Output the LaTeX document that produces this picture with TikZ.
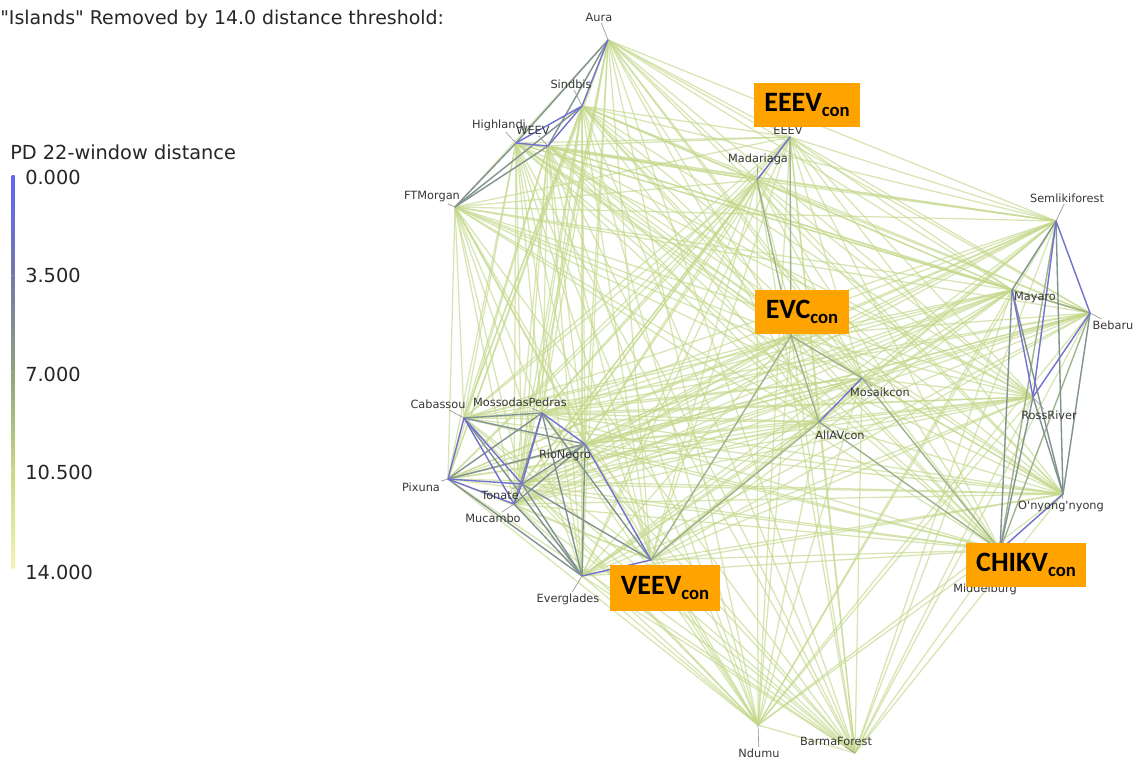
\documentclass[tikz,border=0pt]{standalone}
\usepackage{fontspec}
\setmainfont{DejaVu Sans}
\newfontfamily\boxfont{Carlito}
\definecolor{farc}{RGB}{196,216,138}
\definecolor{midc}{RGB}{128,146,150}
\definecolor{softc}{RGB}{150,170,140}
\definecolor{nearc}{RGB}{112,112,214}
\definecolor{orangebox}{RGB}{255,163,0}
\definecolor{lblc}{RGB}{55,55,55}
\definecolor{lg0}{RGB}{100,100,250}
\definecolor{lg1}{RGB}{112,122,172}
\definecolor{lg2}{RGB}{140,166,122}
\definecolor{lg3}{RGB}{200,216,132}
\definecolor{lg4}{RGB}{242,246,172}
\begin{document}
\begin{tikzpicture}[x=0.75pt,y=-0.75pt,
  faredge/.style={farc,line width=0.95pt,opacity=0.65},
  midedge/.style={midc,line width=1pt},
  softedge/.style={softc,line width=1pt,opacity=0.85},
  nearedge/.style={nearc,line width=1pt},
  vlabel/.style={font=\fontsize{8.5}{9}\selectfont,text=lblc,inner sep=1pt},
  leader/.style={gray!80,line width=0.5pt},
  conbox/.style={fill=orangebox,minimum width=80pt,minimum height=33pt,inner sep=0pt,font=\boxfont\bfseries},
  legtext/.style={font=\fontsize{14.5}{16}\selectfont,text=black!85,anchor=west,inner sep=0pt}]
\useasboundingbox (0,0) rectangle (1137,761);
\fill[white] (0,0) rectangle (1137,761);

% vertices
\coordinate (Aura) at (608,40);
\coordinate (Sindbis) at (582,106);
\coordinate (Highlandj) at (516,143);
\coordinate (WEEV) at (548,146);
\coordinate (FTMorgan) at (455,207);
\coordinate (EEEV) at (790,137);
\coordinate (Madariaga) at (757,180);
\coordinate (Semliki) at (1056,221);
\coordinate (Mayaro) at (1012,290);
\coordinate (Bebaru) at (1090,313);
\coordinate (RossRiver) at (1033,397);
\coordinate (Mosaik) at (862,378);
\coordinate (AllAV) at (819,422);
\coordinate (EVC) at (791,336);
\coordinate (Cabassou) at (464,418);
\coordinate (Mossoda) at (542,413);
\coordinate (RioNegro) at (585,444);
\coordinate (Pixuna) at (448,479);
\coordinate (Tonate) at (522,484);
\coordinate (Mucambo) at (514,504);
\coordinate (Everglades) at (582,576);
\coordinate (VEEV) at (651,560);
\coordinate (Onyong) at (1063,494);
\coordinate (Middelburg) at (1000,550);
\coordinate (Ndumu) at (758,725);
\coordinate (Barma) at (855,753);

% all far edges
\foreach \a [count=\i] in {Aura,Sindbis,Highlandj,WEEV,FTMorgan,EEEV,Madariaga,Semliki,Mayaro,Bebaru,RossRiver,Mosaik,AllAV,EVC,Cabassou,Mossoda,RioNegro,Pixuna,Tonate,Mucambo,Everglades,VEEV,Onyong,Middelburg,Ndumu,Barma}{
  \foreach \b [count=\j] in {Aura,Sindbis,Highlandj,WEEV,FTMorgan,EEEV,Madariaga,Semliki,Mayaro,Bebaru,RossRiver,Mosaik,AllAV,EVC,Cabassou,Mossoda,RioNegro,Pixuna,Tonate,Mucambo,Everglades,VEEV,Onyong,Middelburg,Ndumu,Barma}{
    \ifnum\j>\i \draw[faredge] (\a) -- (\b); \fi
  }
}

% softer mid-distance edges
\foreach \a/\b in {EEEV/EVC,Madariaga/EVC,EVC/Mosaik,EVC/AllAV,EVC/VEEV,AllAV/VEEV,Mosaik/Middelburg,AllAV/Middelburg,
  Mayaro/Bebaru,Semliki/Middelburg,Bebaru/Middelburg}
  {\draw[softedge] (\a) -- (\b);}

% mid-distance edges
\foreach \a/\b in {Aura/Highlandj,Aura/WEEV,Highlandj/FTMorgan,WEEV/FTMorgan,Sindbis/FTMorgan,
  Cabassou/Mossoda,Cabassou/RioNegro,Pixuna/RioNegro,Pixuna/Mossoda,Mossoda/Mucambo,RioNegro/Tonate,
  RioNegro/Mucambo,Everglades/Tonate,Everglades/Mucambo,Everglades/Cabassou,Everglades/Mossoda,
  Everglades/RioNegro,Pixuna/Everglades,Mossoda/VEEV,Tonate/VEEV,
  Semliki/Mayaro,Semliki/Onyong,Mayaro/Onyong,Mayaro/Middelburg,Bebaru/Onyong,
  RossRiver/Onyong,RossRiver/Middelburg}
  {\draw[midedge] (\a) -- (\b);}

% close edges
\foreach \a/\b in {Aura/Sindbis,Sindbis/Highlandj,Sindbis/WEEV,Highlandj/WEEV,EEEV/Madariaga,Mosaik/AllAV,
  Cabassou/Pixuna,Cabassou/Tonate,Cabassou/Mucambo,Pixuna/Tonate,Pixuna/Mucambo,Tonate/Mucambo,
  Mossoda/RioNegro,Mossoda/Tonate,Everglades/VEEV,RioNegro/VEEV,
  Semliki/RossRiver,Mayaro/RossRiver,Bebaru/RossRiver,Onyong/Middelburg,Semliki/Bebaru}
  {\draw[nearedge] (\a) -- (\b);}

% vertex labels
\node[vlabel] (lAura) at (599,17) {Aura};
\node[vlabel] (lSindbis) at (571,84) {Sindbis};
\node[vlabel] (lHighlandj) at (499,125) {Highlandj};
\node[vlabel] (lWEEV) at (533,130) {WEEV};
\node[vlabel] (lFTMorgan) at (432,197) {FTMorgan};
\node[vlabel] (lEEEV) at (788,130) {EEEV};
\node[vlabel] (lMadariaga) at (758,159) {Madariaga};
\node[vlabel] (lSemliki) at (1067,198) {Semlikiforest};
\node[vlabel] (lMayaro) at (1035,298) {Mayaro};
\node[vlabel] (lBebaru) at (1113,325) {Bebaru};
\node[vlabel] (lRossRiver) at (1049,415) {RossRiver};
\node[vlabel] (lMosaik) at (880,392) {Mosaikcon};
\node[vlabel] (lAllAV) at (840,435) {AllAVcon};
\node[vlabel] (lCabassou) at (438,404) {Cabassou};
\node[vlabel] (lMossoda) at (520,402) {MossodasPedras};
\node[vlabel] (lRioNegro) at (565,455) {RioNegro};
\node[vlabel] (lPixuna) at (421,487) {Pixuna};
\node[vlabel] (lTonate) at (500,495) {Tonate};
\node[vlabel] (lMucambo) at (493,518) {Mucambo};
\node[vlabel] (lEverglades) at (568,599) {Everglades};
\node[vlabel] (lOnyong) at (1061,506) {O\textquotesingle nyong\textquotesingle nyong};
\node[vlabel] (lMiddelburg) at (985,589) {Middelburg};
\node[vlabel] (lNdumu) at (759,753) {Ndumu};
\node[vlabel] (lBarma) at (836,741) {BarmaForest};
\foreach \v in {Aura,Sindbis,Highlandj,WEEV,FTMorgan,Madariaga,Semliki,Mayaro,Bebaru,RossRiver,Mosaik,AllAV,Cabassou,Mossoda,RioNegro,Pixuna,Tonate,Mucambo,Everglades,Onyong,Middelburg,Ndumu,Barma}
  {\draw[leader] (l\v) -- (\v);}

% orange annotation boxes
\node[conbox] (bEEEV) at (807,105) {\fontsize{21}{21}\selectfont EEEV\raisebox{-0.35ex}{\fontsize{14}{14}\selectfont con}};
\node[conbox,minimum width=71pt] (bEVC) at (802,312) {\fontsize{21}{21}\selectfont EVC\raisebox{-0.35ex}{\fontsize{14}{14}\selectfont con}};
\node[conbox,minimum width=82pt,minimum height=34pt] (bVEEV) at (665,588) {\fontsize{21}{21}\selectfont VEEV\raisebox{-0.35ex}{\fontsize{14}{14}\selectfont con}};
\node[conbox,minimum width=90pt] (bCHIKV) at (1026,565) {\fontsize{21}{21}\selectfont CHIKV\raisebox{-0.35ex}{\fontsize{14}{14}\selectfont con}};

% title
\node[anchor=west,inner sep=0pt,font=\fontsize{14.2}{16}\selectfont,text=black!85] (title) at (0,19) {\textquotedbl Islands\textquotedbl{} Removed by 14.0 distance threshold:};

% legend
\node[legtext] (legtitle) at (10,152) {PD 22-window distance};
\shade[top color=lg0,bottom color=lg1] (11.5,175) rectangle (14.5,275);
\shade[top color=lg1,bottom color=lg2] (11.5,275) rectangle (14.5,372);
\shade[top color=lg2,bottom color=lg3] (11.5,372) rectangle (14.5,470);
\shade[top color=lg3,bottom color=lg4] (11.5,470) rectangle (14.5,568);
\node[legtext] (v0) at (25,177) {0.000};
\node[legtext] (v1) at (25,275) {3.500};
\node[legtext] (v2) at (25,374) {7.000};
\node[legtext] (v3) at (25,472) {10.500};
\node[legtext] (v4) at (25,572) {14.000};
\end{tikzpicture}
\end{document}
